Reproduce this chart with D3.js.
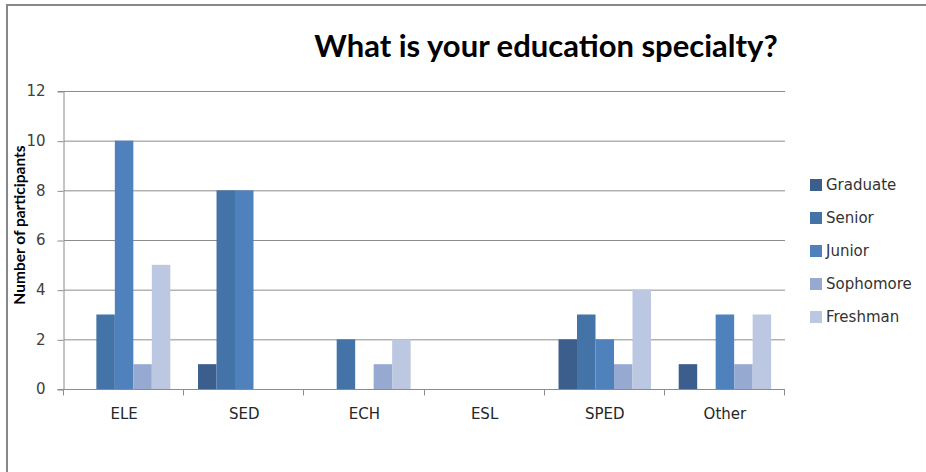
<!DOCTYPE html>
<html>
<head>
<meta charset="utf-8">
<script src="https://cdn.jsdelivr.net/npm/d3@7"></script>
<style>
  html, body { margin: 0; padding: 0; background: #fff; }
  svg { display: block; }
</style>
</head>
<body>
<svg id="chart" width="926" height="472"></svg>
<script>
// Education specialty survey, grouped by class standing
const categories = ["ELE", "SED", "ECH", "ESL", "SPED", "Other"];
const seriesNames = ["Graduate", "Senior", "Junior", "Sophomore", "Freshman"];
const graduate  = [0, 1, 0, 0, 2, 1];
const senior    = [3, 8, 2, 0, 3, 0];
const junior    = [10, 8, 0, 0, 2, 3];
const sophomore = [1, 0, 1, 0, 1, 1];
const freshman  = [5, 0, 2, 0, 4, 3];
const yTicks = [0, 2, 4, 6, 8, 10, 12];
const colors = ["#3b5e8c", "#4473a7", "#4f81bd", "#96aad1", "#bcc8e2"];

const seriesValues = [graduate, senior, junior, sophomore, freshman];
const rows = categories.map((c, i) => ({
  category: c,
  values: seriesNames.map((s, k) => ({ series: s, value: seriesValues[k][i] }))
}));

const svg = d3.select("#chart");
const plot = { left: 64, right: 785, top: 91, bottom: 389 };

// chart frame
svg.append("rect")
  .attr("x", 7).attr("y", 5)
  .attr("width", 940).attr("height", 500)
  .attr("fill", "none").attr("stroke", "#888").attr("stroke-width", 2);

const x0 = d3.scaleBand().domain(categories).range([plot.left, plot.right]).paddingInner(0).paddingOuter(0);
const x1 = d3.scaleBand().domain(seriesNames).range([0, x0.bandwidth()]).paddingInner(0).paddingOuter(0.75);
const y = d3.scaleLinear().domain([0, 12]).range([plot.bottom, plot.top]);
const color = d3.scaleOrdinal().domain(seriesNames).range(colors);

// horizontal gridlines
svg.append("g")
  .selectAll("line")
  .data(yTicks.filter(t => t > 0))
  .join("line")
  .attr("x1", plot.left).attr("x2", plot.right)
  .attr("y1", d => y(d) + 0.5).attr("y2", d => y(d) + 0.5)
  .attr("stroke", "#8c8c8c").attr("stroke-width", 1);

// bars
svg.append("g")
  .selectAll("g")
  .data(rows)
  .join("g")
  .attr("transform", d => `translate(${x0(d.category)},0)`)
  .selectAll("rect")
  .data(d => d.values)
  .join("rect")
  .attr("x", d => x1(d.series))
  .attr("width", x1.bandwidth())
  .attr("y", d => y(d.value))
  .attr("height", d => y(0) - y(d.value))
  .attr("fill", d => color(d.series));

// y axis
const yAxis = d3.axisLeft(y).tickValues(yTicks).tickSize(6).tickPadding(12).tickFormat(d3.format("d"));
const gy = svg.append("g")
  .attr("transform", `translate(${plot.left - 0.5},0)`)
  .call(yAxis);
gy.select(".domain").attr("stroke", "#8c8c8c");
gy.selectAll(".tick line").attr("stroke", "#8c8c8c").attr("transform", "translate(0,0.5)");
gy.selectAll(".tick text")
  .attr("font-family", "'DejaVu Sans', sans-serif")
  .attr("font-size", 15)
  .attr("fill", "#404040");

// x axis with ticks at category boundaries
const xAxisLine = svg.append("g").attr("transform", `translate(0,${plot.bottom + 0.5})`);
xAxisLine.append("line")
  .attr("x1", plot.left).attr("x2", plot.right)
  .attr("stroke", "#8c8c8c");
const boundaries = categories.map(c => x0(c)).concat([x0(categories[categories.length - 1]) + x0.bandwidth()]);
xAxisLine.selectAll("line.tk")
  .data(boundaries)
  .join("line")
  .attr("class", "tk")
  .attr("x1", d => Math.round(d) - 0.5).attr("x2", d => Math.round(d) - 0.5)
  .attr("y1", 0).attr("y2", 6)
  .attr("stroke", "#8c8c8c");
xAxisLine.selectAll("text")
  .data(categories)
  .join("text")
  .attr("x", d => x0(d) + x0.bandwidth() / 2)
  .attr("y", 29)
  .attr("text-anchor", "middle")
  .attr("font-family", "'DejaVu Sans', sans-serif")
  .attr("font-size", 15)
  .attr("fill", "#262626")
  .text(d => d);

// axis title
svg.append("text")
  .attr("transform", "translate(25,225) rotate(-90)")
  .attr("text-anchor", "middle")
  .attr("font-family", "Lato, sans-serif")
  .attr("font-weight", "bold")
  .attr("font-size", 15.5)
  .attr("fill", "#000")
  .text("Number of participants");

// title
svg.append("text")
  .attr("x", 546).attr("y", 57)
  .attr("text-anchor", "middle")
  .attr("font-family", "Lato, sans-serif")
  .attr("font-weight", "bold")
  .attr("font-size", 31)
  .attr("fill", "#000")
  .text("What is your education specialty?");

// legend
const legend = svg.append("g").attr("transform", "translate(810,185)");
const item = legend.selectAll("g")
  .data(seriesNames)
  .join("g")
  .attr("transform", (d, i) => `translate(0,${i * 33})`);
item.append("rect")
  .attr("x", 0).attr("y", -6)
  .attr("width", 12).attr("height", 12)
  .attr("fill", d => color(d));
item.append("text")
  .attr("x", 16).attr("y", 5)
  .attr("font-family", "'DejaVu Sans', sans-serif")
  .attr("font-size", 15)
  .attr("fill", "#333")
  .text(d => d);
</script>
</body>
</html>
